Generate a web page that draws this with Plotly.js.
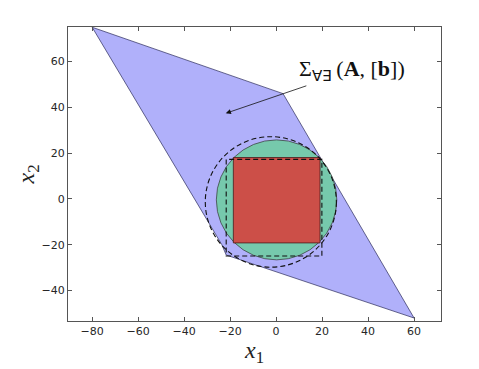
<!DOCTYPE html>
<html>
<head>
<meta charset="utf-8">
<script src="https://cdn.plot.ly/plotly-3.0.1.min.js"></script>
<style>body{margin:0;background:#fff}</style>
</head>
<body>
<div id="plot"></div>
<script>
// outer polygon Sigma(A,[b])
var polyX = [-80, 3, 60, -21.7, -23.6, -80];
var polyY = [75, 46, -52, -24.5, -20, 75];

// inner sets
var circCenter = [0.2, -0.4], circR = 26.2;          // green disc
var boxX = [-18.6, 19.1], boxY = [-19.2, 18.1];      // red square
var dashBoxX = [-21.7, 19.9], dashBoxY = [-24.9, 17.3];
var dashCircCenter = [-2.3, -1.3], dashCircR = 28.5;

var arrowTip = [-21.9, 37.4];

var data = [{
  x: polyX,
  y: polyY,
  mode: "lines",
  fill: "toself",
  fillcolor: "rgb(176,176,250)",
  line: {color: "#2a2a5a", width: 0.7},
  hoverinfo: "skip"
}];

var shapes = [
  {type: "circle", xref: "x", yref: "y", layer: "above",
   x0: circCenter[0] - circR, x1: circCenter[0] + circR,
   y0: circCenter[1] - circR, y1: circCenter[1] + circR,
   fillcolor: "rgb(118,201,172)", line: {color: "#333", width: 0.7}},
  {type: "rect", xref: "x", yref: "y", layer: "above",
   x0: boxX[0], x1: boxX[1], y0: boxY[0], y1: boxY[1],
   fillcolor: "rgb(204,79,72)", line: {color: "#4a1a1a", width: 0.8}},
  {type: "rect", xref: "x", yref: "y", layer: "above",
   x0: dashBoxX[0], x1: dashBoxX[1], y0: dashBoxY[0], y1: dashBoxY[1],
   line: {color: "#111", width: 1.1, dash: "5px,3px"}},
  {type: "circle", xref: "x", yref: "y", layer: "above",
   x0: dashCircCenter[0] - dashCircR, x1: dashCircCenter[0] + dashCircR,
   y0: dashCircCenter[1] - dashCircR, y1: dashCircCenter[1] + dashCircR,
   line: {color: "#111", width: 1.1, dash: "5px,3px"}}
];

var axisStyle = {
  showgrid: false,
  zeroline: false,
  showline: true,
  mirror: "ticks",
  linecolor: "#555",
  linewidth: 1,
  ticks: "inside",
  ticklen: 4,
  tickcolor: "#555",
  tickfont: {family: "DejaVu Sans", size: 11, color: "#262626"}
};

var layout = {
  width: 479,
  height: 369,
  margin: {l: 68, r: 38, t: 27, b: 48},
  paper_bgcolor: "#fff",
  plot_bgcolor: "#fff",
  showlegend: false,
  xaxis: Object.assign({}, axisStyle, {
    range: [-90.5, 71.7],
    tickvals: [-80, -60, -40, -20, 0, 20, 40, 60],
    title: {text: "<i>x</i><sub>1</sub>", standoff: 3,
            font: {family: "Liberation Serif", size: 24, color: "#222"}}
  }),
  yaxis: Object.assign({}, axisStyle, {
    range: [-53.3, 75.1],
    tickvals: [-40, -20, 0, 20, 40, 60],
    title: {text: "<i>x</i><sub>2</sub>", standoff: 0,
            font: {family: "Liberation Serif", size: 24, color: "#222"}}
  }),
  shapes: shapes,
  annotations: [{
    x: arrowTip[0], y: arrowTip[1],
    xref: "x", yref: "y",
    text: "Σ<sub>∀∃</sub> (<b>A</b>, [<b>b</b>])",
    font: {family: "Liberation Serif", size: 22, color: "#111"},
    showarrow: true,
    arrowhead: 2,
    arrowsize: 1.3,
    arrowwidth: 0.8,
    arrowcolor: "#111",
    ax: 126,
    ay: -43
  }]
};

Plotly.newPlot("plot", data, layout, {displayModeBar: false, staticPlot: true});
</script>
</body>
</html>
